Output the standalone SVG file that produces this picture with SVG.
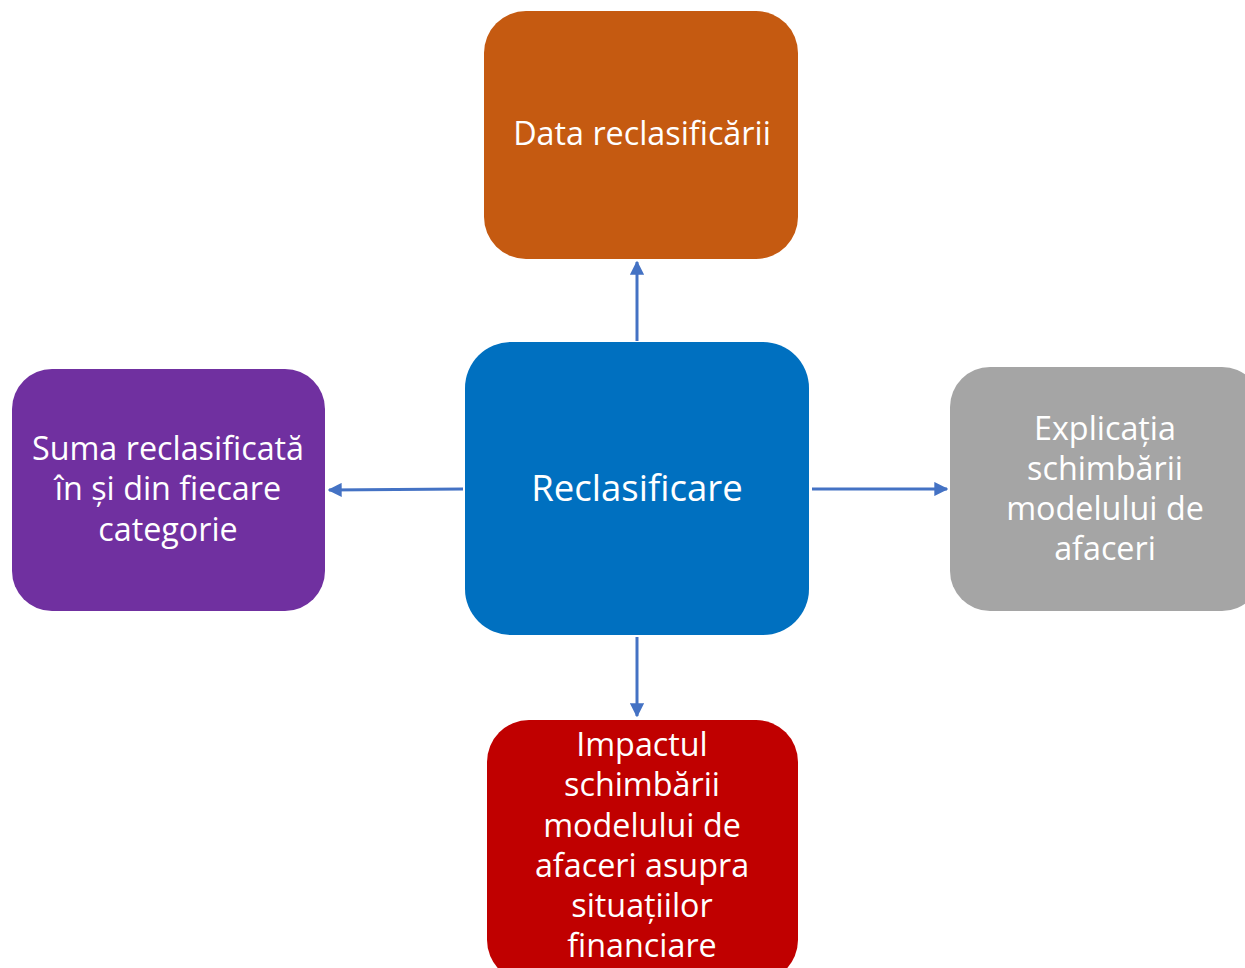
<svg xmlns="http://www.w3.org/2000/svg" width="1245" height="968" viewBox="0 0 1245 968">
<style>
.t{font-family:"Open Sans",Lato,"Liberation Sans",sans-serif;fill:#fff;text-anchor:middle;font-size:32.3px;font-variant-ligatures:none}
.c{stroke:#4472C4;stroke-width:3;fill:none;marker-end:url(#ah)}
</style>
<defs>
<marker id="ah" viewBox="0 0 10 10" refX="9" refY="5" markerWidth="4.7" markerHeight="4.7" orient="auto" markerUnits="strokeWidth">
<path d="M0,0L10,5L0,10z" fill="#4472C4"/>
</marker>
</defs>
<rect width="1245" height="968" fill="#fff"/>
<g id="connectors">
<line class="c" x1="637" y1="341" x2="637" y2="262"/>
<line class="c" x1="463" y1="489" x2="329" y2="490"/>
<line class="c" x1="812" y1="489" x2="947" y2="489"/>
<line class="c" x1="637" y1="637" x2="637" y2="716"/>
</g>
<g id="n-data">
<rect x="484" y="11" width="314" height="248" rx="42" fill="#C55A11"/>
<text class="t" x="642" y="145">Data reclasificării</text>
</g>
<g id="n-suma">
<rect x="12" y="369" width="313" height="242" rx="40" fill="#7030A0"/>
<text class="t" x="168" y="460">Suma reclasificată</text>
<text class="t" x="168" y="500">în și din fiecare</text>
<text class="t" x="168" y="541">categorie</text>
</g>
<g id="n-reclasificare">
<rect x="465" y="342" width="344" height="293" rx="46" fill="#0070C0"/>
<text class="t" x="637" y="501" style="font-size:36.5px">Reclasificare</text>
</g>
<g id="n-explicatia">
<rect x="950" y="367" width="312" height="244" rx="40" fill="#A5A5A5"/>
<text class="t" x="1105" y="440">Explicația</text>
<text class="t" x="1105" y="480">schimbării</text>
<text class="t" x="1105" y="520">modelului de</text>
<text class="t" x="1105" y="560">afaceri</text>
</g>
<g id="n-impactul">
<rect x="487" y="720" width="311" height="262" rx="42" fill="#C00000"/>
<text class="t" x="642" y="756">Impactul</text>
<text class="t" x="642" y="796">schimbării</text>
<text class="t" x="642" y="837">modelului de</text>
<text class="t" x="642" y="877">afaceri asupra</text>
<text class="t" x="642" y="917">situațiilor</text>
<text class="t" x="642" y="957">financiare</text>
</g>
</svg>
